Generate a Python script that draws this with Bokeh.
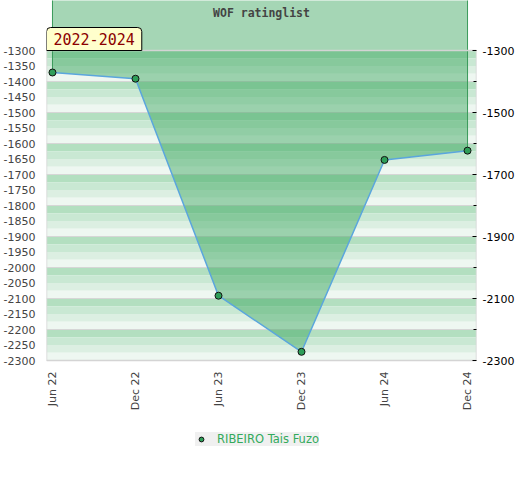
import math
from bokeh.plotting import figure
from bokeh.models import Range1d, LinearAxis, FixedTicker, Label, Legend, LegendItem
from bokeh.core.properties import value
from bokeh.embed import file_html
from bokeh.resources import INLINE

# ---- data ----
periods = ["Jun 22", "Dec 22", "Jun 23", "Dec 23", "Jun 24", "Dec 24"]
ratings = [-1371, -1391, -2091, -2272, -1653, -1623]
player = "RIBEIRO Tais Fuzo"
title_text = "WOF ratinglist"
span_text = "2022-2024"
left_ticks = list(range(-1300, -2301, -50))
right_major = [-1300, -1500, -1700, -1900, -2100, -2300]
right_minor = [-1400, -1600, -1800, -2000, -2200]
grid_lines = list(range(-1300, -2301, -100))
y_lo, y_top = -2300, -1300

idx = list(range(len(periods)))

x_lo, x_hi = -0.072, 5.108
y_hi = -1138.7      # top edge of the canvas
y_bottom = -2687.1  # bottom edge of the canvas (room for labels + legend)

p = figure(width=520, height=480, output_backend="svg",
           toolbar_location=None, x_range=Range1d(x_lo, x_hi),
           y_range=Range1d(y_bottom, y_hi), x_axis_location=None,
           min_border_left=45, min_border_right=44, min_border_top=0,
           min_border_bottom=0)
p.outline_line_color = None
p.grid.visible = False
p.background_fill_color = "white"
p.border_fill_color = "white"

# ---- background stripes (4 shades per 100) ----
stripe_cols = ["#b3dfc0", "#c9e8d3", "#dcefe2", "#eef7f1"]
bottoms, tops, cols = [], [], []
v = y_top
k = 0
while v > y_lo:
    tops.append(v)
    bottoms.append(v - 25)
    cols.append(stripe_cols[k % 4])
    v -= 25
    k += 1
p.quad(left=x_lo, right=x_hi, bottom=bottoms, top=tops, fill_color=cols,
       line_color=None)
p.segment(x0=[x_lo] * len(grid_lines), x1=[x_hi] * len(grid_lines),
          y0=grid_lines, y1=grid_lines, line_color="#d6d6d6", line_width=1)

# ---- filled area above the series ----
p.varea(x=idx, y1=ratings, y2=[y_hi + 100] * len(idx), fill_color="#31a156",
        fill_alpha=0.44)
p.segment(x0=[idx[0], idx[-1]], y0=[ratings[0], ratings[-1]],
          x1=[idx[0], idx[-1]], y1=[y_hi + 100] * 2,
          line_color="#3a9a5a", line_width=1)

# plot-area border
p.quad(left=x_lo, right=x_hi, bottom=y_lo, top=y_top, fill_alpha=0,
       line_color="#d4d4d4", line_width=1.5)

p.line(idx, ratings, line_color="#5ba6dd", line_width=1.5)
r = p.scatter(idx, ratings, size=7, fill_color="#2e9e58", line_color="#111111",
              line_width=1)

# ---- x tick labels (vertical) ----
p.text(x=idx, y=[y_lo] * len(idx), text=periods, angle=math.pi / 2,
       text_align="right", text_baseline="middle", y_offset=11,
       text_font=value("DejaVu Sans"), text_font_size="11px",
       text_color="#444444")

# ---- y axes ----
ay = p.yaxis[0]
ay.ticker = FixedTicker(ticks=left_ticks)
ay.major_label_overrides = {t: str(t) for t in left_ticks}
ay.major_label_standoff = 5
ay.major_tick_line_color = None
ay.minor_tick_line_color = None
ay.axis_line_color = None
ay.major_label_text_color = "#444444"
ay.major_label_text_font = "DejaVu Sans"
ay.major_label_text_font_size = "11px"

ry = LinearAxis(ticker=FixedTicker(ticks=right_major, minor_ticks=right_minor))
ry.major_label_overrides = {t: str(t) for t in right_major}
ry.axis_line_color = None
ry.major_tick_in = 4
ry.major_tick_out = 0
ry.minor_tick_in = 3
ry.minor_tick_out = 0
ry.major_tick_line_color = "black"
ry.minor_tick_line_color = "black"
ry.major_label_standoff = 6
ry.major_label_text_color = "black"
ry.major_label_text_font = "DejaVu Sans"
ry.major_label_text_font_size = "11px"
p.add_layout(ry, "right")

# ---- title and period label ----
p.add_layout(Label(x=(x_lo + x_hi) / 2, y=-1180.6, text=title_text,
                   text_align="center", text_baseline="middle",
                   text_font="DejaVu Sans Mono", text_font_style="bold",
                   text_font_size="11.5px", text_color="#444444"))
p.add_layout(Label(x=x_lo, y=y_top, text=span_text,
                   text_align="left", text_baseline="bottom",
                   text_font="DejaVu Sans Mono",
                   text_font_size="15px", text_color="#8b0000",
                   background_fill_color="#ffffcc", border_line_color="black",
                   border_line_width=1,
                   padding=dict(left=7, right=7, top=5, bottom=6),
                   border_radius=dict(top_left=4, top_right=4,
                                      bottom_right=0, bottom_left=0)))

# ---- legend (placed below the plot area) ----
leg = Legend(items=[LegendItem(label=player, renderers=[r])],
             location=(149, 34), orientation="horizontal",
             background_fill_color="#f0f0f0", background_fill_alpha=1,
             border_line_color=None, label_text_color="#33aa5c",
             label_text_font="DejaVu Sans", label_text_font_size="11.5px",
             padding=6, spacing=0, glyph_width=12, glyph_height=12,
             label_standoff=10, label_height=12, margin=0)
p.add_layout(leg)

open("out.html", "w").write(file_html(p, INLINE))
